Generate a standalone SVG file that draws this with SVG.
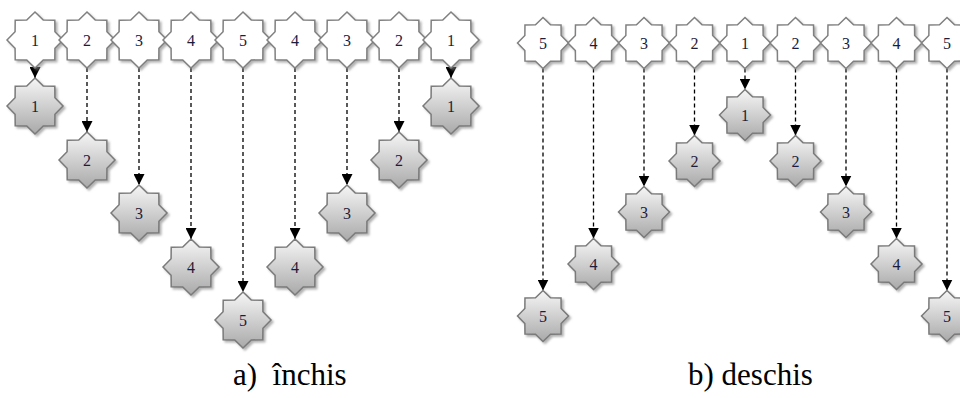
<svg xmlns="http://www.w3.org/2000/svg" xmlns:xlink="http://www.w3.org/1999/xlink" width="960" height="398" viewBox="0 0 960 398">
<style>
.top{fill:#ffffff;stroke:#808080;stroke-width:1.5;filter:url(#sh)}
.bot{fill:url(#gg);stroke:#7a7a7a;stroke-width:1.5;filter:url(#sh)}
.lbl{font-family:"Liberation Serif","Times New Roman",serif;font-size:16px;fill:#1c1c3c;text-anchor:middle}
.cap{font-family:"Liberation Serif","Times New Roman",serif;font-size:31px;fill:#000}
.arr{stroke:#000;stroke-width:1.3;stroke-dasharray:4 3;fill:none;marker-end:url(#ah)}
</style>
<defs>
<linearGradient id="gg" x1="0" y1="0" x2="0" y2="1">
<stop offset="0" stop-color="#f6f6f6"/>
<stop offset="1" stop-color="#a9a9a9"/>
</linearGradient>
<filter id="sh" x="-20%" y="-20%" width="150%" height="150%">
<feDropShadow dx="2" dy="2" stdDeviation="1" flood-color="#808080" flood-opacity="0.6"/>
</filter>
<marker id="ah" markerUnits="userSpaceOnUse" markerWidth="11" markerHeight="11" refX="10" refY="5" orient="auto" viewBox="0 0 10 10">
<path d="M0,0 L10,5 L0,10 Z" fill="#000"/>
</marker>
<path id="sL" d="M0,-28 L8.25,-19.92 L19.8,-19.8 L19.92,-8.25 L28,0 L19.92,8.25 L19.8,19.8 L8.25,19.92 L0,28 L-8.25,19.92 L-19.8,19.8 L-19.92,8.25 L-28,0 L-19.92,-8.25 L-19.8,-19.8 L-8.25,-19.92 Z"/>
<path id="sR" d="M0,-25.5 L7.51,-18.14 L18.03,-18.03 L18.14,-7.51 L25.5,0 L18.14,7.51 L18.03,18.03 L7.51,18.14 L0,25.5 L-7.51,18.14 L-18.03,18.03 L-18.14,7.51 L-25.5,0 L-18.14,-7.51 L-18.03,-18.03 L-7.51,-18.14 Z"/>
</defs>

<g id="connectors">
<line class="arr" x1="35" y1="68" x2="35" y2="78"/>
<line class="arr" x1="87" y1="68" x2="87" y2="132"/>
<line class="arr" x1="139" y1="68" x2="139" y2="185"/>
<line class="arr" x1="191" y1="68" x2="191" y2="239"/>
<line class="arr" x1="243" y1="68" x2="243" y2="292"/>
<line class="arr" x1="295" y1="68" x2="295" y2="239"/>
<line class="arr" x1="347" y1="68" x2="347" y2="185"/>
<line class="arr" x1="399" y1="68" x2="399" y2="132"/>
<line class="arr" x1="451" y1="68" x2="451" y2="78"/>
<line class="arr" x1="543" y1="68.5" x2="543" y2="290.5"/>
<line class="arr" x1="593.5" y1="68.5" x2="593.5" y2="238.5"/>
<line class="arr" x1="644" y1="68.5" x2="644" y2="186.5"/>
<line class="arr" x1="694.5" y1="68.5" x2="694.5" y2="135.5"/>
<line class="arr" x1="745" y1="68.5" x2="745" y2="89.5"/>
<line class="arr" x1="795.5" y1="68.5" x2="795.5" y2="135.5"/>
<line class="arr" x1="846" y1="68.5" x2="846" y2="186.5"/>
<line class="arr" x1="896.5" y1="68.5" x2="896.5" y2="238.5"/>
<line class="arr" x1="947" y1="68.5" x2="947" y2="290.5"/>
</g>

<g id="a-top-1"><use href="#sL" class="top" x="35" y="40"/><text class="lbl" x="35" y="45.5">1</text></g>
<g id="a-top-2"><use href="#sL" class="top" x="87" y="40"/><text class="lbl" x="87" y="45.5">2</text></g>
<g id="a-top-3"><use href="#sL" class="top" x="139" y="40"/><text class="lbl" x="139" y="45.5">3</text></g>
<g id="a-top-4"><use href="#sL" class="top" x="191" y="40"/><text class="lbl" x="191" y="45.5">4</text></g>
<g id="a-top-5"><use href="#sL" class="top" x="243" y="40"/><text class="lbl" x="243" y="45.5">5</text></g>
<g id="a-top-4b"><use href="#sL" class="top" x="295" y="40"/><text class="lbl" x="295" y="45.5">4</text></g>
<g id="a-top-3b"><use href="#sL" class="top" x="347" y="40"/><text class="lbl" x="347" y="45.5">3</text></g>
<g id="a-top-2b"><use href="#sL" class="top" x="399" y="40"/><text class="lbl" x="399" y="45.5">2</text></g>
<g id="a-top-1b"><use href="#sL" class="top" x="451" y="40"/><text class="lbl" x="451" y="45.5">1</text></g>

<g id="a-bot-1"><use href="#sL" class="bot" x="35" y="106"/><text class="lbl" x="35" y="111.5">1</text></g>
<g id="a-bot-2"><use href="#sL" class="bot" x="87" y="160"/><text class="lbl" x="87" y="165.5">2</text></g>
<g id="a-bot-3"><use href="#sL" class="bot" x="139" y="213"/><text class="lbl" x="139" y="218.5">3</text></g>
<g id="a-bot-4"><use href="#sL" class="bot" x="191" y="267"/><text class="lbl" x="191" y="272.5">4</text></g>
<g id="a-bot-5"><use href="#sL" class="bot" x="243" y="320"/><text class="lbl" x="243" y="325.5">5</text></g>
<g id="a-bot-4b"><use href="#sL" class="bot" x="295" y="267"/><text class="lbl" x="295" y="272.5">4</text></g>
<g id="a-bot-3b"><use href="#sL" class="bot" x="347" y="213"/><text class="lbl" x="347" y="218.5">3</text></g>
<g id="a-bot-2b"><use href="#sL" class="bot" x="399" y="160"/><text class="lbl" x="399" y="165.5">2</text></g>
<g id="a-bot-1b"><use href="#sL" class="bot" x="451" y="106"/><text class="lbl" x="451" y="111.5">1</text></g>

<g id="b-top-5"><use href="#sR" class="top" x="543" y="43"/><text class="lbl" x="543" y="48.5">5</text></g>
<g id="b-top-4"><use href="#sR" class="top" x="593.5" y="43"/><text class="lbl" x="593.5" y="48.5">4</text></g>
<g id="b-top-3"><use href="#sR" class="top" x="644" y="43"/><text class="lbl" x="644" y="48.5">3</text></g>
<g id="b-top-2"><use href="#sR" class="top" x="694.5" y="43"/><text class="lbl" x="694.5" y="48.5">2</text></g>
<g id="b-top-1"><use href="#sR" class="top" x="745" y="43"/><text class="lbl" x="745" y="48.5">1</text></g>
<g id="b-top-2b"><use href="#sR" class="top" x="795.5" y="43"/><text class="lbl" x="795.5" y="48.5">2</text></g>
<g id="b-top-3b"><use href="#sR" class="top" x="846" y="43"/><text class="lbl" x="846" y="48.5">3</text></g>
<g id="b-top-4b"><use href="#sR" class="top" x="896.5" y="43"/><text class="lbl" x="896.5" y="48.5">4</text></g>
<g id="b-top-5b"><use href="#sR" class="top" x="947" y="43"/><text class="lbl" x="947" y="48.5">5</text></g>

<g id="b-bot-5"><use href="#sR" class="bot" x="543" y="316"/><text class="lbl" x="543" y="321.5">5</text></g>
<g id="b-bot-4"><use href="#sR" class="bot" x="593.5" y="264"/><text class="lbl" x="593.5" y="269.5">4</text></g>
<g id="b-bot-3"><use href="#sR" class="bot" x="644" y="212"/><text class="lbl" x="644" y="217.5">3</text></g>
<g id="b-bot-2"><use href="#sR" class="bot" x="694.5" y="161"/><text class="lbl" x="694.5" y="166.5">2</text></g>
<g id="b-bot-1"><use href="#sR" class="bot" x="745" y="115"/><text class="lbl" x="745" y="120.5">1</text></g>
<g id="b-bot-2b"><use href="#sR" class="bot" x="795.5" y="161"/><text class="lbl" x="795.5" y="166.5">2</text></g>
<g id="b-bot-3b"><use href="#sR" class="bot" x="846" y="212"/><text class="lbl" x="846" y="217.5">3</text></g>
<g id="b-bot-4b"><use href="#sR" class="bot" x="896.5" y="264"/><text class="lbl" x="896.5" y="269.5">4</text></g>
<g id="b-bot-5b"><use href="#sR" class="bot" x="947" y="316"/><text class="lbl" x="947" y="321.5">5</text></g>

<g id="captions">
<text class="cap" x="233" y="385">a)&#160; închis</text>
<text class="cap" x="688" y="385">b) deschis</text>
</g>
</svg>
